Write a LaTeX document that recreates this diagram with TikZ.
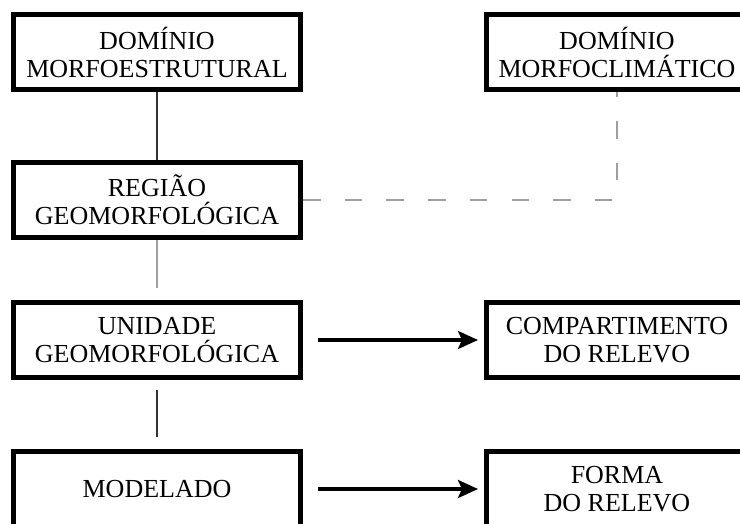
\documentclass[tikz,border=0pt]{standalone}
\usepackage{fontspec}
\setmainfont{Liberation Serif}
\usetikzlibrary{arrows.meta}

\begin{document}
\begin{tikzpicture}[
  x=1pt, y=-1pt,
  % Node Styles
  levelbox/.style={rectangle, draw, line width=5pt, fill=white, text=black, minimum width=287pt, minimum height=75pt, align=center, font=\fontsize{26}{28}\selectfont},
  sidebox/.style={levelbox, minimum width=261pt},
  % Arrow Styles
  solidlink/.style={line width=1.3pt, black!80},
  graylink/.style={line width=1.3pt, gray!75},
  dashedlink/.style={line width=1.3pt, gray!75, dash pattern=on 17.5pt off 24.2pt},
  boldarrow/.style={-{Stealth[length=20pt, width=18pt, inset=4pt]}, line width=3.5pt, shorten <=15pt, shorten >=6pt}
]
\clip (0,0) rectangle (740,524);

% Left column
\node[levelbox] (dom_estr) at (157,52.5) {DOMÍNIO\\MORFOESTRUTURAL};
\node[levelbox] (regiao) at (157,200) {REGIÃO\\GEOMORFOLÓGICA};
\node[levelbox] (unidade) at (157,340) {UNIDADE\\GEOMORFOLÓGICA};
\node[levelbox] (modelado) at (157,489) {MODELADO};

% Right column
\node[sidebox] (dom_clim) at (617,52.5) {DOMÍNIO\\MORFOCLIMÁTICO};
\node[sidebox] (compart) at (617,340) {COMPARTIMENTO\\DO RELEVO};
\node[sidebox] (forma) at (617,489) {FORMA\\DO RELEVO};

\draw[solidlink] (dom_estr) -- (regiao);
\draw[graylink, shorten >=12pt] (regiao) -- (unidade);
\draw[solidlink, shorten <=10pt, shorten >=12pt] (unidade) -- (modelado);
\draw[dashedlink] (regiao.east) -- (regiao.east -| dom_clim.south) -- (dom_clim.south);

\draw[boldarrow] (unidade) -- (compart);
\draw[boldarrow] (modelado) -- (forma);

\end{tikzpicture}
\end{document}
